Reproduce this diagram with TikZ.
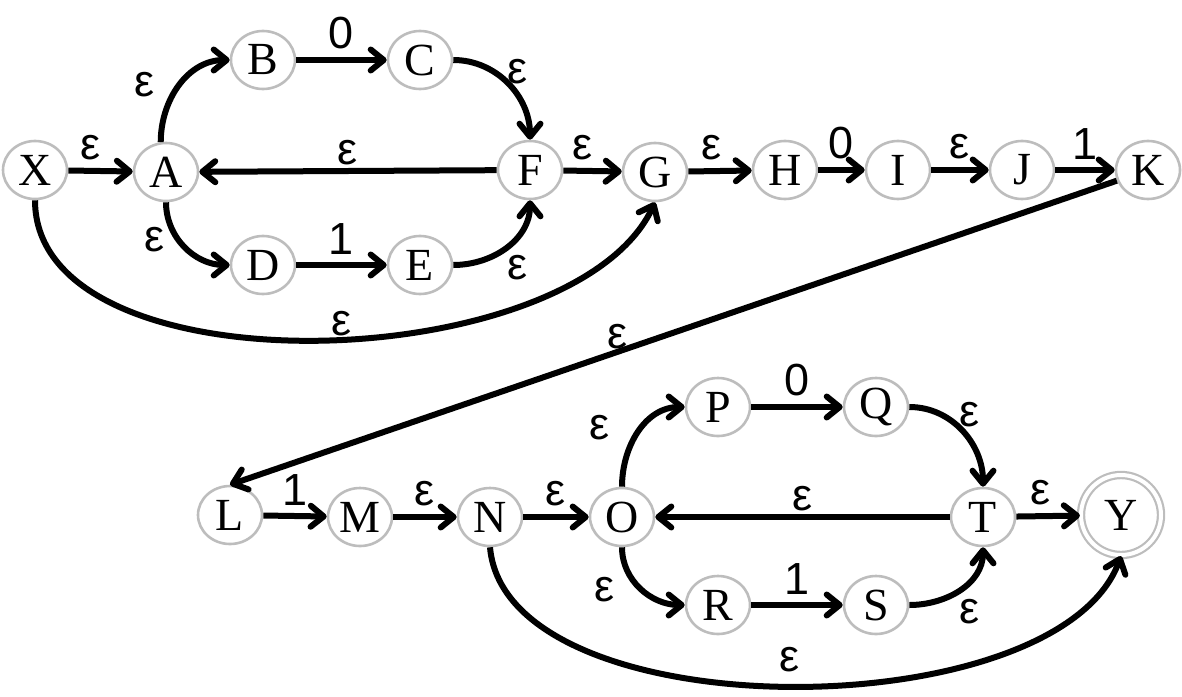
\documentclass[tikz,border=0pt]{standalone}
\usepackage{fontspec}
\setmainfont{Liberation Serif}
\newfontfamily\labfont{Liberation Sans}
\usetikzlibrary{arrows.meta,shapes.geometric}
\definecolor{bd}{HTML}{BDBDBD}
\tikzset{
  st/.style={ellipse, draw=bd, line width=2.6pt, fill=white, minimum width=64pt, minimum height=58pt, inner sep=0pt, font=\fontsize{46}{46}\selectfont},
  fin/.style={circle, draw=bd, line width=2.2pt, double=white, double distance=4pt, minimum size=80pt, inner sep=0pt, font=\fontsize{46}{46}\selectfont},
  ed/.style={line width=6pt, -{Straight Barb[length=13pt,width=21pt,line join=round,line cap=round]}},
  lb/.style={font=\labfont\fontsize{45}{45}\selectfont, inner sep=0pt},
  ab/.style={lb, anchor=south, yshift=8pt}
}
\begin{document}
\begin{tikzpicture}[x=1pt,y=1pt]
\useasboundingbox (0,0) rectangle (1182,-696);
% states
\node[st] (X) at (35,-170) {X};
\node[st] (A) at (166,-172) {A};
\node[st] (B) at (263,-60) {B};
\node[st] (C) at (420,-60) {C};
\node[st] (F) at (530,-170) {F};
\node[st] (D) at (263,-265) {D};
\node[st] (E) at (420,-265) {E};
\node[st] (G) at (655,-172) {G};
\node[st] (H) at (785,-170) {H};
\node[st] (I) at (898,-170) {I};
\node[st] (J) at (1022,-170) {J};
\node[st] (K) at (1148,-170) {K};
\node[st] (L) at (230,-515) {L};
\node[st] (M) at (360,-517) {M};
\node[st] (N) at (490,-517) {N};
\node[st] (O) at (622,-517) {O};
\node[st] (P) at (718,-407) {P};
\node[st] (Q) at (876,-407) {Q};
\node[st] (T) at (983,-517) {T};
\node[st] (R) at (718,-605) {R};
\node[st] (S) at (876,-605) {S};
\node[fin] (Y) at (1121,-515) {Y};
% top part
\draw[ed] (X) -- node[ab, xshift=-10pt] {ε} (A);
\draw[ed] (A.100) to[out=90,in=180] (B);
\draw[ed] (B) -- node[ab] {0} (C);
\draw[ed] (C) to[out=0,in=90] (F.north);
\draw[ed] (F) -- node[ab, yshift=-5pt] {ε} (A);
\draw[ed] (A.south) to[out=-90,in=180] (D);
\draw[ed] (D) -- node[ab] {1} (E);
\draw[ed] (E) to[out=0,in=-90] (F.south);
\draw[ed] (F) -- node[ab, xshift=-10pt] {ε} (G);
\draw[ed] (X.south) to[out=-90,in=-115,looseness=0.8] (G.south);
\draw[ed] (G) -- node[ab, xshift=-8pt] {ε} (H);
\draw[ed] (H) -- node[ab] {0} (I);
\draw[ed] (I) -- node[ab] {ε} (J);
\draw[ed] (J) -- node[ab] {1} (K);
\draw[ed] (K) -- (L.north);
% bottom part
\draw[ed] (L) -- node[ab] {1} (M);
\draw[ed] (M) -- node[ab] {ε} (N);
\draw[ed] (N) -- node[ab] {ε} (O);
\draw[ed] (O.north) to[out=90,in=180] (P);
\draw[ed] (P) -- node[ab] {0} (Q);
\draw[ed] (Q) to[out=0,in=90] (T.north);
\draw[ed] (T) -- node[ab, yshift=-5pt] {ε} (O);
\draw[ed] (O.south) to[out=-90,in=180] (R);
\draw[ed] (R) -- node[ab] {1} (S);
\draw[ed] (S) to[out=0,in=-90] (T.south);
\draw[ed] (T) -- node[ab, xshift=-8pt] {ε} (Y);
\draw[ed] (N.south) to[out=-85,in=-110,looseness=0.75] (Y.south);
% labels of curved and diagonal edges
\node[lb] (lAB) at (145,-85) {ε};
\node[lb] (lCF) at (518,-72) {ε};
\node[lb] (lAD) at (155,-240) {ε};
\node[lb] (lEF) at (518,-268) {ε};
\node[lb] (lXG) at (342,-324) {ε};
\node[lb] (lKL) at (618,-337) {ε};
\node[lb] (lOP) at (600,-428) {ε};
\node[lb] (lQT) at (970,-415) {ε};
\node[lb] (lOR) at (605,-590) {ε};
\node[lb] (lST) at (970,-612) {ε};
\node[lb] (lNY) at (790,-660) {ε};
\end{tikzpicture}
\end{document}
